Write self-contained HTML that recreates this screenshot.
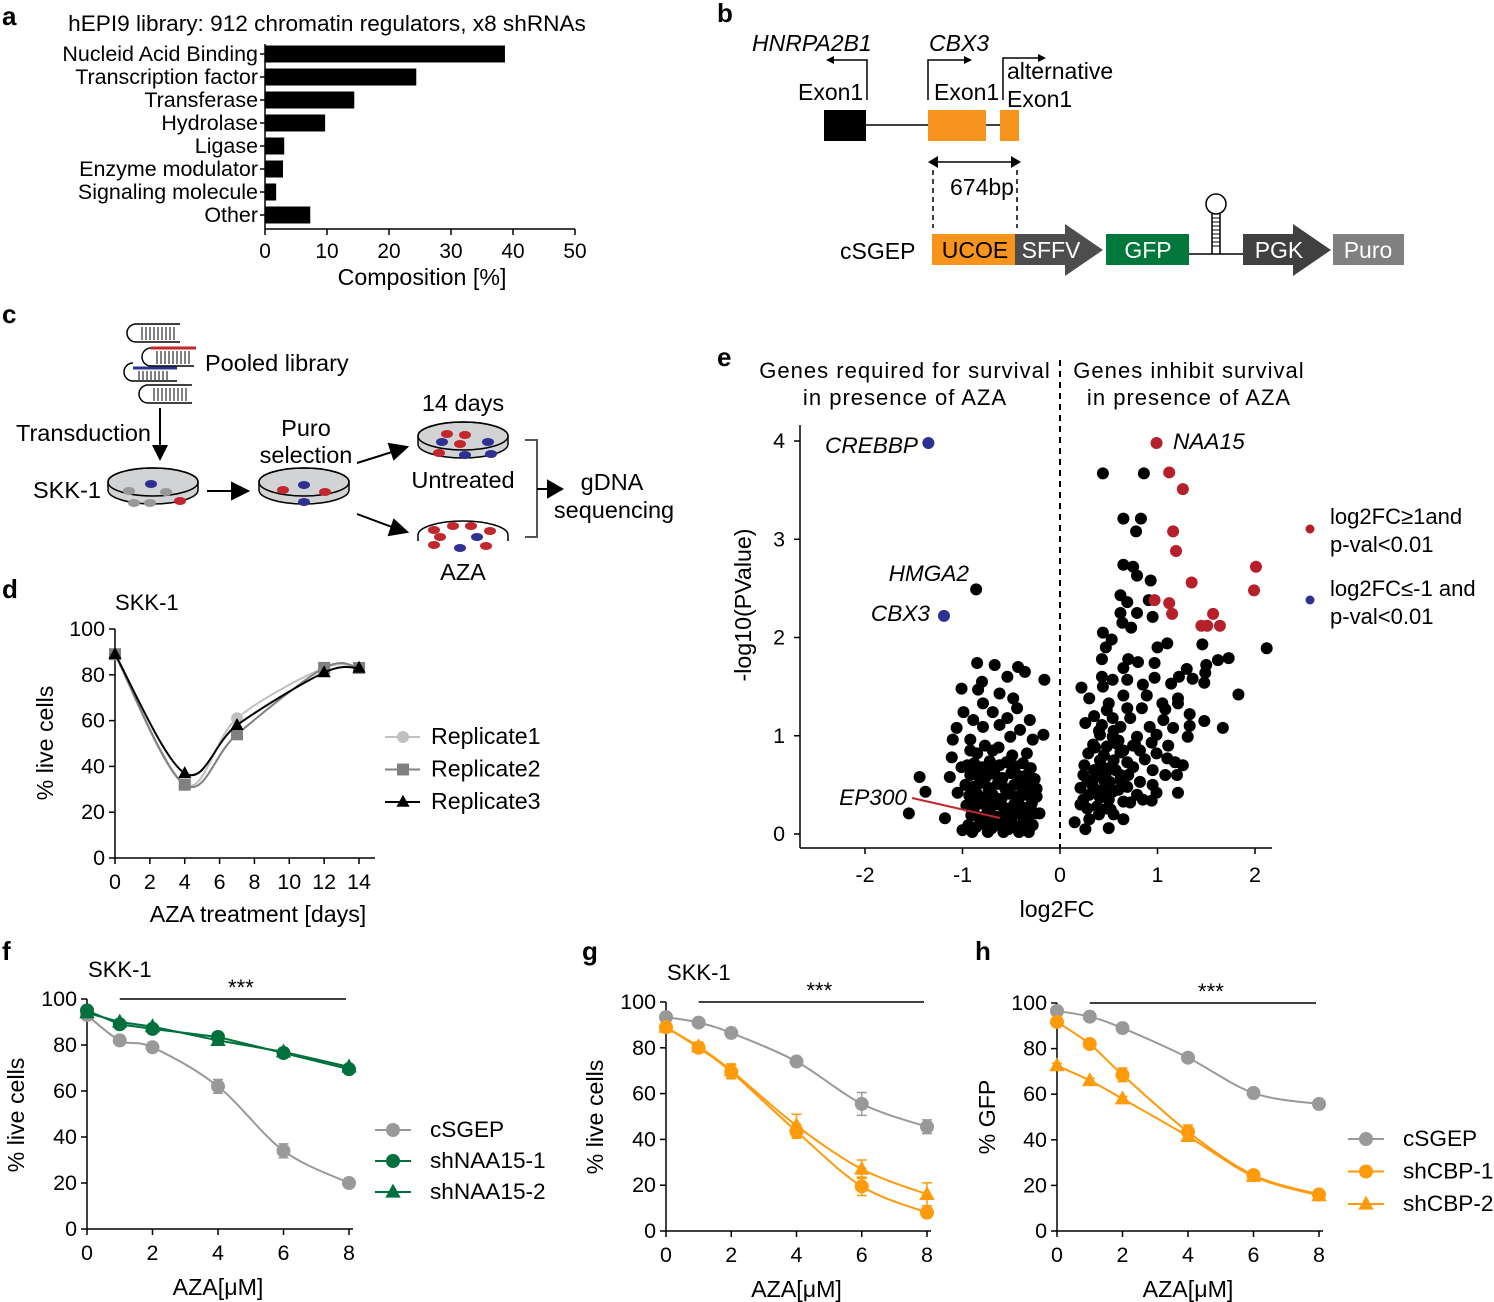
<!DOCTYPE html>
<html><head><meta charset="utf-8"><style>
html,body{margin:0;padding:0;background:#fff;overflow:hidden;width:1494px;height:1302px}
svg{display:block;font-family:"Liberation Sans",Arial,sans-serif}
.pl{font-weight:bold;font-size:26px}
</style></head><body>
<svg id="fig" width="1494" height="1302" viewBox="0 0 1494 1302" xmlns="http://www.w3.org/2000/svg">
<text class="pl" x="2" y="25">a</text>
<text class="pl" x="717" y="22">b</text>
<text class="pl" x="2" y="323">c</text>
<text class="pl" x="717" y="366">e</text>
<text class="pl" x="2" y="598">d</text>
<text class="pl" x="2" y="960">f</text>
<text class="pl" x="582" y="960">g</text>
<text class="pl" x="975" y="960">h</text>

<g id="pa"></g>
<g id="pd"></g>
<g id="pe"></g>
<g id="pf"></g>
<g id="pg"></g>
<g id="ph"></g>

<g font-size="23">
  <text x="752" y="51" font-style="italic">HNRPA2B1</text>
  <text x="929" y="51" font-style="italic">CBX3</text>
  <path d="M867,100 V60 H830" fill="none" stroke="#000" stroke-width="1.5"/>
  <path d="M826,60 l8,-4 v8 z" fill="#000"/>
  <path d="M928,100 V60 H966" fill="none" stroke="#000" stroke-width="1.5"/>
  <path d="M972,60 l-8,-4 v8 z" fill="#000"/>
  <path d="M1003,100 V58 H1040" fill="none" stroke="#000" stroke-width="1.5"/>
  <path d="M1046,58 l-8,-4 v8 z" fill="#000"/>
  <text x="798" y="100">Exon1</text>
  <text x="934" y="100">Exon1</text>
  <text x="1007" y="79">alternative</text>
  <text x="1007" y="107">Exon1</text>
  <line x1="866" y1="125" x2="928" y2="125" stroke="#000" stroke-width="1.5"/>
  <line x1="986" y1="125" x2="1000" y2="125" stroke="#000" stroke-width="1.5"/>
  <rect x="824" y="110" width="42" height="31" fill="#000"/>
  <rect x="928" y="110" width="58" height="31" fill="#f7941d"/>
  <rect x="1000" y="110" width="19" height="31" fill="#f7941d"/>
  <line x1="934" y1="162" x2="1015" y2="162" stroke="#000" stroke-width="1.5"/>
  <path d="M928,162 l10,-6 v12 z M1021,162 l-10,-6 v12 z" fill="#000"/>
  <line x1="933" y1="170" x2="933" y2="228" stroke="#000" stroke-width="1.5" stroke-dasharray="5,4"/>
  <line x1="1017" y1="170" x2="1017" y2="228" stroke="#000" stroke-width="1.5" stroke-dasharray="5,4"/>
  <text x="982" y="195" text-anchor="middle">674bp</text>
  <text x="840" y="259">cSGEP</text>
  <line x1="1189" y1="254" x2="1243" y2="254" stroke="#000" stroke-width="1.5"/>
  <rect x="932" y="234" width="83" height="31" fill="#f7941d"/>
  <text x="975" y="258" text-anchor="middle">UCOE</text>
  <path d="M1015,234 H1065 V224 L1103,250 L1065,276 V265 H1015 Z" fill="#4d4d4d"/>
  <text x="1051" y="258" text-anchor="middle" fill="#fff">SFFV</text>
  <rect x="1106" y="234" width="83" height="31" fill="#00783c"/>
  <text x="1148" y="258" text-anchor="middle" fill="#fff">GFP</text>
  <path d="M1212,254 V214 M1220,254 V214" stroke="#000" stroke-width="1.5"/>
  <path d="M1212,218 h8 M1212,222 h8 M1212,226 h8 M1212,230 h8 M1212,234 h8 M1212,238 h8 M1212,242 h8 M1212,246 h8" stroke="#000" stroke-width="1"/>
  <circle cx="1216" cy="204" r="10" fill="none" stroke="#000" stroke-width="1.5"/>
  <path d="M1243,234 H1293 V224 L1331,250 L1293,276 V265 H1243 Z" fill="#404040"/>
  <text x="1279" y="258" text-anchor="middle" fill="#fff">PGK</text>
  <rect x="1333" y="234" width="71" height="31" fill="#808080"/>
  <text x="1368" y="258" text-anchor="middle" fill="#fff">Puro</text>
</g>

<g font-size="23.5">
  <g fill="none" stroke="#000" stroke-width="1.5">
    <path d="M136,324 a9,9 0 1 0 0,18 M136,324 H180 M136,342 H180"/>
    <path d="M151,348 a9,9 0 1 0 0,18 M151,366 H194"/>
    <path d="M133,363 a9,9 0 1 0 0,18 M133,381 H177"/>
    <path d="M148,385 a9,9 0 1 0 0,18 M148,385 H192 M148,403 H192"/>
  </g>
  <line x1="151" y1="348" x2="196" y2="348" stroke="#c1272d" stroke-width="3"/>
  <line x1="133" y1="368" x2="177" y2="368" stroke="#2e3192" stroke-width="3"/>
  <path d="M142,327 V340 M146,327 V340 M150,327 V340 M154,327 V340 M158,327 V340 M162,327 V340 M166,327 V340 M170,327 V340 M174,327 V340 M157,351 V364 M161,351 V364 M165,351 V364 M169,351 V364 M173,351 V364 M177,351 V364 M181,351 V364 M185,351 V364 M189,351 V364 M139,371 V380 M143,371 V380 M147,371 V380 M151,371 V380 M155,371 V380 M159,371 V380 M163,371 V380 M167,371 V380 M154,388 V401 M158,388 V401 M162,388 V401 M166,388 V401 M170,388 V401 M174,388 V401 M178,388 V401 M182,388 V401 M186,388 V401" stroke="#000" stroke-width="1"/>
  <text x="205" y="371">Pooled library</text>
  <line x1="160" y1="408" x2="160" y2="445" stroke="#000" stroke-width="2"/>
  <path d="M160,461 l-8,-16 h16 z" fill="#000"/>
  <text x="16" y="441">Transduction</text>
  <text x="33" y="498">SKK-1</text>
  <text x="306" y="436" text-anchor="middle">Puro</text>
  <text x="306" y="463" text-anchor="middle">selection</text>
  <text x="463" y="411" text-anchor="middle">14 days</text>
  <text x="463" y="488" text-anchor="middle">Untreated</text>
  <text x="463" y="580" text-anchor="middle">AZA</text>
  <text x="612" y="490" text-anchor="middle">gDNA</text>
  <text x="614" y="518" text-anchor="middle">sequencing</text>
  <g stroke="#000" stroke-width="1.5">
    <path d="M108,490 a45,14 0 0 0 90,0 v-8 a45,14 0 0 0 -90,0 z" fill="#d1d3d4"/>
    <ellipse cx="153" cy="482" rx="45" ry="14" fill="none"/>
    <path d="M259,490 a45,14 0 0 0 90,0 v-8 a45,14 0 0 0 -90,0 z" fill="#d1d3d4"/>
    <ellipse cx="304" cy="482" rx="45" ry="14" fill="none"/>
    <path d="M418,444 a45,14 0 0 0 90,0 v-8 a45,14 0 0 0 -90,0 z" fill="#d1d3d4"/>
    <ellipse cx="463" cy="436" rx="45" ry="14" fill="none"/>
    <path d="M418,535 a45,14 0 0 1 90,0 M418,535 v6 M508,535 v6" fill="none"/>
  </g>
  <g>
    <ellipse cx="129" cy="491" rx="6" ry="4" fill="#999"/><ellipse cx="151" cy="484" rx="6" ry="4" fill="#2e3192"/>
    <ellipse cx="166" cy="492" rx="6" ry="4" fill="#999"/><ellipse cx="134" cy="503" rx="6" ry="4" fill="#999"/>
    <ellipse cx="150" cy="503" rx="6" ry="4" fill="#999"/><ellipse cx="180" cy="501" rx="6" ry="4" fill="#c1272d"/>
    <ellipse cx="283" cy="490" rx="6" ry="4" fill="#c1272d"/><ellipse cx="304" cy="485" rx="6" ry="4" fill="#2e3192"/>
    <ellipse cx="325" cy="492" rx="6" ry="4" fill="#c1272d"/><ellipse cx="304" cy="502" rx="6" ry="4" fill="#2e3192"/>
    <ellipse cx="447" cy="434" rx="6" ry="4" fill="#c1272d"/><ellipse cx="465" cy="435" rx="6" ry="4" fill="#c1272d"/>
    <ellipse cx="442" cy="442" rx="6" ry="4" fill="#2e3192"/><ellipse cx="460" cy="444" rx="6" ry="4" fill="#c1272d"/>
    <ellipse cx="488" cy="442" rx="6" ry="4" fill="#2e3192"/><ellipse cx="439" cy="453" rx="6" ry="4" fill="#c1272d"/>
    <ellipse cx="465" cy="455" rx="6" ry="4" fill="#2e3192"/><ellipse cx="491" cy="454" rx="6" ry="4" fill="#2e3192"/>
    <ellipse cx="434" cy="530" rx="6" ry="4" fill="#c1272d"/><ellipse cx="453" cy="526" rx="6" ry="4" fill="#c1272d"/>
    <ellipse cx="471" cy="526" rx="6" ry="4" fill="#c1272d"/><ellipse cx="490" cy="531" rx="6" ry="4" fill="#c1272d"/>
    <ellipse cx="440" cy="537" rx="6" ry="4" fill="#c1272d"/><ellipse cx="477" cy="537" rx="6" ry="4" fill="#2e3192"/>
    <ellipse cx="434" cy="545" rx="6" ry="4" fill="#c1272d"/><ellipse cx="460" cy="548" rx="6" ry="4" fill="#2e3192"/>
    <ellipse cx="486" cy="546" rx="6" ry="4" fill="#c1272d"/>
  </g>
  <g stroke="#000" stroke-width="2" fill="#000">
    <line x1="207" y1="491" x2="232" y2="491"/><path d="M248,491 l-16,-8 v16 z"/>
    <line x1="357" y1="463" x2="392" y2="452"/><path d="M407,447 l-18,-3 l5,15 z"/>
    <line x1="357" y1="514" x2="392" y2="527"/><path d="M407,532 l-13,-12 l-5,15 z"/>
    <path d="M525,440 H537 V537 H525" fill="none" stroke="#555"/>
    <line x1="537" y1="489" x2="548" y2="489"/><path d="M562,489 l-14,-8 v16 z"/>
  </g>
</g>

<script>
// ---------------- Panel a data ----------------
const aCategories = ["Nucleid Acid Binding","Transcription factor","Transferase","Hydrolase","Ligase","Enzyme modulator","Signaling molecule","Other"];
const aValues = [38.7, 24.4, 14.4, 9.7, 3.1, 2.9, 1.8, 7.3];
const aTicks = [0,10,20,30,40,50];

// ---------------- Panel d data ----------------
const dDays = [0,4,7,12,14];
const dRep1 = [89,32,61,83,83];
const dRep2 = [89,32,54,83,83];
const dRep3 = [89,37,58,81,83];
const dXTicks = [0,2,4,6,8,10,12,14];
const dYTicks = [0,20,40,60,80,100];

// ---------------- Panel e data ----------------
const eBlackX = [0.44,0.86,0.65,0.83,0.78,0.65,0.75,0.79,0.93,0.62,0.69,0.91,0.62,0.79,0.95,0.64,0.73,0.44,0.53,0.47,1.0,1.1,1.46,2.12,0.43,0.70,0.80,0.97,1.62,1.73,1.5,1.30,0.65,1.22,1.49,0.43,0.54,0.69,0.97,1.36,0.22,0.44,0.85,1.14,1.48,0.30,0.65,0.89,1.83,1.21,0.50,1.05,1.21,0.48,0.69,0.84,1.08,1.33,0.54,0.72,1.06,1.48,0.26,0.43,0.62,0.92,1.33,1.67,1.16,0.41,0.54,0.79,0.99,1.31,0.34,0.48,0.77,0.94,1.11,0.29,0.62,0.82,0.99,0.41,0.69,0.87,1.10,1.26,0.51,0.75,1.18,0.24,0.38,0.62,0.95,1.08,1.20,0.33,0.51,0.82,0.21,0.44,0.69,0.95,0.54,0.79,0.99,1.21,0.24,0.41,0.65,0.94,0.28,0.48,0.72,0.15,0.26,0.50,0.35,0.40,0.55,0.60,0.45,0.55,0.35,0.45,0.60,0.30,0.50,0.70,0.65,0.75,0.40,0.55,0.30,0.65,0.85,0.36,0.58,0.25,0.47,0.33,0.57,0.38,0.28,0.52,0.42,0.62,0.37,0.21,
 -0.85,-0.67,-0.43,-0.36,-0.16,-0.54,-0.80,-1.01,-0.84,-0.62,-0.48,-0.79,-0.99,-0.69,-0.44,-0.89,-0.54,-0.31,-1.06,-0.79,-0.62,-0.41,-0.17,-1.10,-0.92,-0.51,-0.28,-1.11,-0.85,-0.69,-0.34,-1.01,-1.44,-1.13,-1.38,-1.05,-1.55,-1.18,-0.24,-0.21,-0.86,
 -0.95,-0.88,-0.80,-0.72,-0.62,-0.55,-0.46,-0.38,-0.30,-0.92,-0.84,-0.76,-0.67,-0.59,-0.50,-0.42,-0.33,-0.26,-0.97,-0.89,-0.81,-0.73,-0.64,-0.56,-0.47,-0.39,-0.30,-0.24,-0.93,-0.85,-0.77,-0.69,-0.60,-0.52,-0.44,-0.35,-0.27,-0.96,-0.88,-0.80,-0.71,-0.63,-0.55,-0.47,-0.38,-0.29,-0.91,-0.83,-0.75,-0.67,-0.58,-0.50,-0.41,-0.33,-0.25,-0.94,-0.86,-0.78,-0.70,-0.62,-0.53,-0.45,-0.36,-0.28,-1.00,-0.90,-0.74,-0.58,-0.42,-0.32,
 -0.90,-0.82,-0.70,-0.60,-0.49,-0.40,-0.31,-0.86,-0.73,-0.65,-0.52,-0.43,-0.34,-0.81,-0.68,-0.57,-0.45,-0.37,-0.92,-0.77,-0.63,-0.49];
const eBlackY = [3.67,3.67,3.21,3.21,3.08,2.74,2.72,2.63,2.58,2.43,2.36,2.38,2.25,2.25,2.21,2.15,2.10,2.05,1.98,1.90,1.90,1.94,1.93,1.89,1.78,1.78,1.75,1.74,1.77,1.79,1.72,1.68,1.69,1.60,1.64,1.60,1.57,1.57,1.59,1.58,1.49,1.50,1.52,1.53,1.54,1.38,1.41,1.41,1.42,1.38,1.33,1.33,1.33,1.26,1.28,1.28,1.27,1.22,1.18,1.18,1.16,1.15,1.13,1.11,1.09,1.09,1.10,1.08,1.08,1.01,0.99,0.99,1.01,0.99,0.91,0.89,0.91,0.93,0.90,0.82,0.83,0.85,0.82,0.75,0.73,0.76,0.77,0.70,0.67,0.68,0.73,0.60,0.60,0.60,0.65,0.60,0.60,0.52,0.53,0.53,0.47,0.45,0.48,0.50,0.43,0.40,0.42,0.42,0.35,0.37,0.33,0.34,0.26,0.26,0.32,0.12,0.05,0.06,1.2,1.05,1.05,0.95,0.80,0.75,0.65,0.55,0.45,0.40,0.35,0.60,0.85,0.90,0.20,0.20,0.15,0.15,0.35,0.88,0.92,0.70,0.62,0.50,0.65,0.28,0.55,0.25,0.70,0.55,0.45,0.30,
 1.74,1.72,1.70,1.65,1.57,1.60,1.55,1.48,1.47,1.43,1.38,1.33,1.24,1.24,1.28,1.16,1.18,1.16,1.08,1.09,1.11,1.06,1.01,0.96,0.96,0.99,0.96,0.78,0.82,0.85,0.82,0.68,0.58,0.58,0.43,0.42,0.21,0.16,0.38,0.21,2.49,
 0.70,0.72,0.68,0.74,0.70,0.73,0.69,0.72,0.67,0.60,0.62,0.58,0.61,0.57,0.62,0.59,0.61,0.56,0.50,0.48,0.52,0.47,0.51,0.46,0.50,0.48,0.51,0.46,0.39,0.41,0.37,0.40,0.36,0.41,0.38,0.40,0.36,0.29,0.27,0.31,0.28,0.30,0.26,0.30,0.27,0.31,0.19,0.17,0.21,0.18,0.20,0.16,0.20,0.17,0.21,0.09,0.07,0.10,0.06,0.09,0.05,0.08,0.06,0.09,0.04,0.02,0.02,0.02,0.02,0.02,
 0.65,0.55,0.66,0.54,0.64,0.55,0.44,0.34,0.45,0.33,0.24,0.34,0.25,0.13,0.14,0.12,0.24,0.13,0.85,0.90,0.88,0.80];
const eRedX = [0.99,1.12,1.26,1.16,1.19,1.35,2.01,1.99,0.97,1.12,1.15,1.57,1.64,1.51,1.45];
const eRedY = [3.98,3.68,3.51,3.08,2.88,2.56,2.72,2.48,2.38,2.35,2.24,2.24,2.12,2.12,2.12];
const eBlueX = [-1.35,-1.19];
const eBlueY = [3.98,2.22];
const eXTicks = [-2,-1,0,1,2];
const eYTicks = [0,1,2,3,4];

// ---------------- Panels f/g/h data ----------------
const doseX = [0,1,2,4,6,8];
const doseTicks = [0,2,4,6,8];
const pctTicks = [0,20,40,60,80,100];
const fCSGEP = [93,82,79,62,34,20];
const fNAA1 = [95,89,87,83.5,76.5,69.5];
const fNAA2 = [94,90,88,82,77,70.5];
const fCSGEPErr = [1,2,1,3,3,1];
const fNAA1Err = [1,1,1,2,2,1];
const gCSGEP = [93.4,91,86.5,74,55.5,45.5];
const gCBP1 = [89,80,69.5,43.5,19.5,8];
const gCBP2 = [89,80.5,70,46,27,16];
const gCSGEPErr = [1,1,1,1,5,3];
const gCBP1Err = [1,2,3,3,4,2];
const gCBP2Err = [1,2,3,5,4,5];
const hCSGEP = [96.5,94,89,76,60.5,55.7];
const hCBP1 = [91.7,82,68.5,43.5,24.5,16];
const hCBP2 = [72.5,66,58,41.5,24,15.5];
const hCSGEPErr = [1,1,1,1,1,1];
const hCBP1Err = [1,1,3,3,2,1];
const hCBP2Err = [1,1,1,2,1,1];

const NS = "http://www.w3.org/2000/svg";
const FS = 1.16;
function mk(parent, tag, attrs, text) {
  const el = document.createElementNS(NS, tag);
  for (const k in attrs) el.setAttribute(k, k === "font-size" ? attrs[k] * FS : attrs[k]);
  if (text !== undefined) el.textContent = text;
  parent.appendChild(el);
  return el;
}
function smoothPath(pts) {
  let d = "M" + pts[0][0] + "," + pts[0][1];
  for (let i = 0; i < pts.length - 1; i++) {
    const p0 = pts[Math.max(0, i - 1)], p1 = pts[i], p2 = pts[i + 1], p3 = pts[Math.min(pts.length - 1, i + 2)];
    const c1x = p1[0] + (p2[0] - p0[0]) / 6, c1y = p1[1] + (p2[1] - p0[1]) / 6;
    const c2x = p2[0] - (p3[0] - p1[0]) / 6, c2y = p2[1] - (p3[1] - p1[1]) / 6;
    d += " C" + c1x + "," + c1y + " " + c2x + "," + c2y + " " + p2[0] + "," + p2[1];
  }
  return d;
}
function marker(g, type, x, y, color, r) {
  let el;
  if (type === "circle") el = mk(g, "circle", {cx: x, cy: y, r: r, fill: color});
  else if (type === "square") el = mk(g, "rect", {x: x - r, y: y - r, width: 2 * r, height: 2 * r, fill: color});
  else el = mk(g, "path", {d: "M" + x + "," + (y - r * 1.2) + " L" + (x + r * 1.1) + "," + (y + r * 0.8) + " L" + (x - r * 1.1) + "," + (y + r * 0.8) + "Z", fill: color});
  return el;
}

// ---------------- Panel a ----------------
(function () {
  const g = document.getElementById("pa");
  const x0 = 265, x1 = 575, top = 44, bottom = 229;
  const xs = v => x0 + (v / 50) * (x1 - x0);
  const rowY = i => 54 + i * 23;
  const t = mk(g, "text", {x: 327, y: 31, "font-size": 19.5, "text-anchor": "middle"}, "hEPI9 library: 912 chromatin regulators, x8 shRNAs");
  
  
  const ax = mk(g, "line", {x1: x0, y1: top, x2: x0, y2: bottom, stroke: "#000", "stroke-width": 1.5});
  
  
  const xa = mk(g, "line", {x1: x0, y1: bottom, x2: x1, y2: bottom, stroke: "#000", "stroke-width": 1.5});
  
  
  aCategories.forEach((c, i) => {
    const y = rowY(i);
    const b = mk(g, "rect", {x: x0, y: y - 8.5, width: xs(aValues[i]) - x0, height: 17, fill: "#000"});
    
    
    mk(g, "line", {x1: x0 - 5, y1: y, x2: x0, y2: y, stroke: "#000", "stroke-width": 1.5});
    const l = mk(g, "text", {x: x0 - 7, y: y + 7, "font-size": 18.5, "text-anchor": "end"}, c);
    
    
  });
  aTicks.forEach(v => {
    mk(g, "line", {x1: xs(v), y1: bottom, x2: xs(v), y2: bottom + 6, stroke: "#000", "stroke-width": 1.5});
    const l = mk(g, "text", {x: xs(v), y: 258, "font-size": 18, "text-anchor": "middle"}, v);
    
    
  });
  const xt = mk(g, "text", {x: 422, y: 285, "font-size": 20, "text-anchor": "middle"}, "Composition [%]");
  
  
})();

function axes(g, o) {
  const xs = v => o.x0 + (v - o.xmin) / (o.xmax - o.xmin) * (o.x1 - o.x0);
  const ys = v => o.y0 - (v - o.ymin) / (o.ymax - o.ymin) * (o.y0 - o.y1);
  const ya = mk(g, "line", {x1: o.x0, y1: o.y1, x2: o.x0, y2: o.y0, stroke: "#000", "stroke-width": 1.5});
  
  
  const xa = mk(g, "line", {x1: o.x0, y1: o.y0, x2: o.xend, y2: o.y0, stroke: "#000", "stroke-width": 1.5});
  
  
  o.yticks.forEach(v => {
    mk(g, "line", {x1: o.x0 - 6, y1: ys(v), x2: o.x0, y2: ys(v), stroke: "#000", "stroke-width": 1.5});
    const l = mk(g, "text", {x: o.x0 - 10, y: ys(v) + 7, "font-size": 18.5, "text-anchor": "end"}, v);
    
    
  });
  o.xticks.forEach(v => {
    mk(g, "line", {x1: xs(v), y1: o.y0, x2: xs(v), y2: o.y0 + 6, stroke: "#000", "stroke-width": 1.5});
    const l = mk(g, "text", {x: xs(v), y: o.y0 + 31, "font-size": 18.5, "text-anchor": "middle"}, v);
    
    
  });
  const xt = mk(g, "text", {x: o.xtx, y: o.xty, "font-size": 20, "text-anchor": "middle"}, o.xtitle);
  
  
  const yt = mk(g, "text", {x: 0, y: 0, "font-size": 20, "text-anchor": "middle", transform: "translate(" + o.ytx + "," + o.yty + ") rotate(-90)"}, o.ytitle);
  
  
  return {xs, ys};
}

// ---------------- Panel d ----------------
(function () {
  const g = document.getElementById("pd");
  const s = axes(g, {x0: 115, x1: 359, xend: 375, y0: 858, y1: 629, xmin: 0, xmax: 14, ymin: 0, ymax: 100,
    xticks: dXTicks, yticks: dYTicks, xtitle: "AZA treatment [days]", xtx: 258, xty: 922, ytitle: "% live cells", ytx: 53, yty: 743});
  const tt = mk(g, "text", {x: 115, y: 610, "font-size": 19}, "SKK-1");
  
  
  const series = [[dRep1, "#c0c0c0", "circle", "Replicate1"], [dRep2, "#808080", "square", "Replicate2"], [dRep3, "#000", "tri", "Replicate3"]];
  series.forEach((sr, k) => {
    const pts = dDays.map((d, i) => [s.xs(d), s.ys(sr[0][i])]);
    const p = mk(g, "path", {d: smoothPath(pts), fill: "none", stroke: sr[1], "stroke-width": 2});
    
    
    pts.forEach(pt => {
      const m = marker(g, sr[2], pt[0], pt[1], sr[1], 6);
      
      
    });
    const ly = 737 + k * 32.5;
    mk(g, "line", {x1: 385, y1: ly, x2: 420, y2: ly, stroke: sr[1], "stroke-width": 2});
    marker(g, sr[2], 403, ly, sr[1], 6);
    const lt = mk(g, "text", {x: 431, y: ly + 7, "font-size": 20}, sr[3]);
    
    
  });
})();

// ---------------- Panel e ----------------
(function () {
  const g = document.getElementById("pe");
  const xs = v => 1060 + v * 97.5;
  const ys = v => 834 - v * 98.25;
  const ya = mk(g, "line", {x1: 800, y1: 425, x2: 800, y2: 848, stroke: "#000", "stroke-width": 1.5});
  
  
  const xa = mk(g, "line", {x1: 800, y1: 848, x2: 1272, y2: 848, stroke: "#000", "stroke-width": 1.5});
  
  
  eYTicks.forEach(v => {
    mk(g, "line", {x1: 794, y1: ys(v), x2: 800, y2: ys(v), stroke: "#000", "stroke-width": 1.5});
    const l = mk(g, "text", {x: 785, y: ys(v) + 7, "font-size": 18.5, "text-anchor": "end"}, v);
    
    
  });
  eXTicks.forEach(v => {
    mk(g, "line", {x1: xs(v), y1: 848, x2: xs(v), y2: 854, stroke: "#000", "stroke-width": 1.5});
    const l = mk(g, "text", {x: xs(v), y: 882, "font-size": 18.5, "text-anchor": "middle"}, v);
    
    
  });
  const dl = mk(g, "line", {x1: 1060, y1: 360, x2: 1060, y2: 848, stroke: "#000", "stroke-width": 2, "stroke-dasharray": "6,5"});
  
  
  const xt = mk(g, "text", {x: 1057, y: 917, "font-size": 20, "text-anchor": "middle"}, "log2FC");
  
  
  const yt = mk(g, "text", {x: 0, y: 0, "font-size": 20, "text-anchor": "middle", transform: "translate(751,605) rotate(-90)"}, "-log10(PValue)");
  
  
  [["Genes required for survival", 905, 378], ["in presence of AZA", 905, 405], ["Genes inhibit survival", 1189, 378], ["in presence of AZA", 1189, 405]].forEach(h => {
    const t = mk(g, "text", {x: h[1], y: h[2], "font-size": 19, "letter-spacing": 1, "text-anchor": "middle"}, h[0]);
    
    
  });
  eBlackX.forEach((v, i) => {
    const c = mk(g, "circle", {cx: xs(v), cy: ys(eBlackY[i]), r: 6, fill: "#000"});
    
    
  });
  eRedX.forEach((v, i) => {
    const c = mk(g, "circle", {cx: xs(v), cy: ys(eRedY[i]), r: 6, fill: "#b5202a"});
    
    
  });
  eBlueX.forEach((v, i) => {
    const c = mk(g, "circle", {cx: xs(v), cy: ys(eBlueY[i]), r: 6, fill: "#2e3192"});
    
    
  });
  const el = mk(g, "line", {x1: 912, y1: 798, x2: 1000, y2: 818, stroke: "#c1272d", "stroke-width": 2});
  
  
  [["CREBBP", 918, 453], ["HMGA2", 969, 581], ["CBX3", 930, 621], ["EP300", 907, 805]].forEach(a => {
    const t = mk(g, "text", {x: a[1], y: a[2], "font-size": 19.5, "font-style": "italic", "text-anchor": "end"}, a[0]);
    
    
  });
  const na = mk(g, "text", {x: 1173, y: 449, "font-size": 19.5, "font-style": "italic"}, "NAA15");
  
  
  mk(g, "circle", {cx: 1310, cy: 529, r: 4.5, fill: "#b5202a"});
  mk(g, "circle", {cx: 1310, cy: 600, r: 4.5, fill: "#2e3192"});
  [["log2FC≥1and", 524], ["p-val<0.01", 552], ["log2FC≤-1 and", 596], ["p-val<0.01", 624]].forEach(a => {
    const t = mk(g, "text", {x: 1330, y: a[1], "font-size": 19}, a[0]);
    
    
  });
})();

// ---------------- Panels f/g/h ----------------
function dosePanel(id, o, series) {
  const g = document.getElementById(id);
  const s = axes(g, {x0: o.x0, x1: o.x1, xend: o.x1 + 4, y0: o.y0, y1: o.y1, xmin: 0, xmax: 8, ymin: 0, ymax: 100,
    xticks: doseTicks, yticks: pctTicks, xtitle: "AZA[μM]", xtx: (o.x0 + o.x1) / 2, xty: o.y0 + 66, ytitle: o.ytitle, ytx: o.ytx, yty: o.y0 - 114});
  if (o.title) {
    const t = mk(g, "text", {x: o.x0 + 1, y: o.y1 - 22, "font-size": 19}, o.title);
    
    
  }
  const sl = mk(g, "line", {x1: s.xs(1), y1: o.y1, x2: s.xs(8) - 3, y2: o.y1, stroke: "#000", "stroke-width": 1.5});
  
  
  const st = mk(g, "text", {x: s.xs(4.7), y: o.y1 - 4, "font-size": 19, "text-anchor": "middle"}, "***");
  
  
  series.forEach((sr, k) => {
    const pts = doseX.map((d, i) => [s.xs(d), s.ys(sr.v[i])]);
    const p = mk(g, "path", {d: sr.straight ? "M" + pts.map(q => q.join(",")).join(" L") : smoothPath(pts), fill: "none", stroke: sr.c, "stroke-width": 2});
    
    
    pts.forEach((pt, i) => {
      if (sr.e) {
        const e = sr.e[i];
        mk(g, "path", {d: "M" + pt[0] + "," + s.ys(sr.v[i] + e) + " V" + s.ys(sr.v[i] - e) + " M" + (pt[0] - 5) + "," + s.ys(sr.v[i] + e) + " h10 M" + (pt[0] - 5) + "," + s.ys(sr.v[i] - e) + " h10", stroke: sr.c, "stroke-width": 1.5, fill: "none"});
      }
      const m = marker(g, sr.m, pt[0], pt[1], sr.c, 7);
      
      
    });
    if (o.legend) {
      const ly = o.ly + k * o.lgap;
      mk(g, "line", {x1: o.lx, y1: ly, x2: o.lx + 36, y2: ly, stroke: sr.c, "stroke-width": 2});
      marker(g, sr.m, o.lx + 18, ly, sr.c, 7);
      const lt = mk(g, "text", {x: o.lx + 55, y: ly + 7, "font-size": 19.5}, sr.n);
      
      
    }
  });
}
const GR = "#999999", GN = "#00703c", OR = "#ff9a0a";
dosePanel("pf", {x0: 87, x1: 349, y0: 1229, y1: 999, ytitle: "% live cells", ytx: 24, title: "SKK-1", legend: true, lx: 375, ly: 1130, lgap: 31},
  [{v: fCSGEP, e: fCSGEPErr, c: GR, m: "circle", n: "cSGEP"}, {v: fNAA1, e: fNAA1Err, c: GN, m: "circle", n: "shNAA15-1", straight: true}, {v: fNAA2, c: GN, m: "tri", n: "shNAA15-2", straight: true}]);
dosePanel("pg", {x0: 666, x1: 927, y0: 1231, y1: 1002, ytitle: "% live cells", ytx: 603, title: "SKK-1", legend: false},
  [{v: gCSGEP, e: gCSGEPErr, c: GR, m: "circle", n: "cSGEP"}, {v: gCBP1, e: gCBP1Err, c: OR, m: "circle", n: "shCBP-1"}, {v: gCBP2, e: gCBP2Err, c: OR, m: "tri", n: "shCBP-2"}]);
dosePanel("ph", {x0: 1057, x1: 1319, y0: 1231, y1: 1003, ytitle: "% GFP", ytx: 995, title: "", legend: true, lx: 1348, ly: 1139, lgap: 32.5},
  [{v: hCSGEP, e: hCSGEPErr, c: GR, m: "circle", n: "cSGEP"}, {v: hCBP1, e: hCBP1Err, c: OR, m: "circle", n: "shCBP-1"}, {v: hCBP2, e: hCBP2Err, c: OR, m: "tri", n: "shCBP-2"}]);
</script>
</svg>
</body></html>
